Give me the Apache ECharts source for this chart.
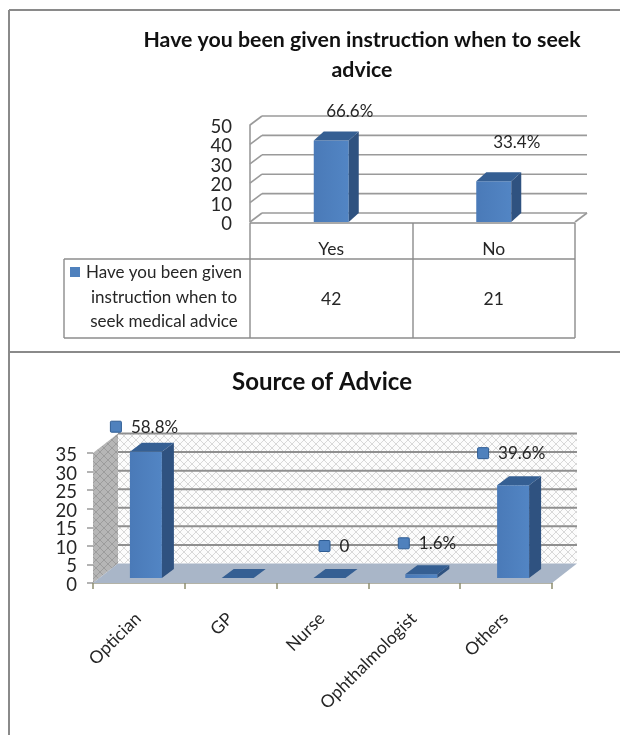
<!DOCTYPE html>
<html><head><meta charset="utf-8">
<style>html,body{margin:0;padding:0;background:#fff}#c{width:620px;height:735px}</style>
<script src="https://cdn.jsdelivr.net/npm/echarts@6/dist/echarts.min.js"></script>
</head><body><div id="c"></div>
<script>
// data
var topTitle = 'Have you been given instruction when to seek\nadvice';
var topCategories = ['Yes', 'No'];
var topValues = [42, 21];
var topPercent = ['66.6%', '33.4%'];
var topTicks = [0, 10, 20, 30, 40, 50];
var topSeriesName = ['Have you been given', 'instruction when to', 'seek medical advice'];
var bottomTitle = 'Source of Advice';
var bottomCategories = ['Optician', 'GP', 'Nurse', 'Ophthalmologist', 'Others'];
var bottomValues = [34, 0, 0, 1, 25];
var bottomPercent = ['58.8%', '', '0', '1.6%', '39.6%'];
var bottomTicks = [0, 5, 10, 15, 20, 25, 30, 35];

// layout
var FONT = 'Lato, "Open Sans", sans-serif';
var TEXT = '#262626', GRID = '#9a9a9a', TABLE = '#8c8c8c';
var topLabelOffset = [[18.5, -29], [23, -39]];
var bottomLabelOffset = [[-23, -25], null, [2, -32], [-10.5, -31], [-23, -32]];

function hatch(bg, line) {
  var c = document.createElement('canvas'); c.width = 8; c.height = 8;
  var g = c.getContext('2d');
  g.fillStyle = bg; g.fillRect(0, 0, 8, 8);
  g.strokeStyle = line; g.lineWidth = 1;
  g.beginPath(); g.moveTo(0, 0); g.lineTo(8, 8); g.moveTo(8, 0); g.lineTo(0, 8); g.stroke();
  return {image: c, repeat: 'repeat'};
}
var hatchBack = hatch('#fcfcfc', '#d8d8d8');
var hatchSide = hatch('#b6b6b6', '#9c9c9c');

function poly(points, fill) {
  return {type: 'polygon', shape: {points: points}, style: {fill: fill}};
}
function seg(x1, y1, x2, y2, color, w) {
  return {type: 'line', shape: {x1: x1, y1: y1, x2: x2, y2: y2}, style: {stroke: color, lineWidth: w || 1.6}};
}
function tickText(x, y, t) {
  return {type: 'text', style: {x: x, y: y + 2, text: String(t), fill: TEXT, font: '18.5px ' + FONT, align: 'right', verticalAlign: 'middle'}};
}

function bar3d(opts) {
  return function (params, api) {
    var p = api.coord([api.value(0), api.value(1)]);
    var base = api.coord([api.value(0), 0]);
    var x0 = p[0] + opts.shiftX - opts.width / 2, x1 = x0 + opts.width;
    var top = p[1] - opts.lift, bot = base[1] - opts.lift;
    var dx = opts.dx, dy = opts.dy;
    var g = [];
    if (bot - top > 0.1) g.push({type: 'rect', shape: {x: x0, y: top, width: opts.width, height: bot - top},
      style: {fill: {type: 'linear', x: 0, y: 0, x2: 1, y2: 0, colorStops: [{offset: 0, color: '#4a7ab8'}, {offset: 1, color: '#5285c4'}]}}});
    g.push(poly([[x1, top], [x1 + dx, top - dy], [x1 + dx, bot - dy], [x1, bot]], '#2f5280'));
    g.push(poly([[x0, top], [x1, top], [x1 + dx, top - dy], [x0 + dx, top - dy]], '#355f93'));
    return {type: 'group', children: g};
  };
}

function topWalls(params, api) {
  var cs = params.coordSys, dx = 12, dy = 9, g = [];
  var xL = cs.x, xR = cs.x + cs.width;
  topTicks.forEach(function (t) {
    var y = api.coord([0, t])[1];
    g.push(seg(xL, y, xL + dx, y - dy, GRID));
    g.push(seg(xL + dx, y - dy, xR + dx, y - dy, GRID));
    g.push(tickText(xL - 18, y, t));
  });
  var y0 = api.coord([0, 0])[1];
  g.push(seg(xR, y0, xR + dx, y0 - dy, GRID));
  return {type: 'group', children: g};
}

function bottomWalls(params, api) {
  var cs = params.coordSys, dx = 25, dy = 19.5, g = [];
  var xL = cs.x, xR = cs.x + cs.width;
  var y0 = api.coord([0, bottomTicks[0]])[1];
  var yT = api.coord([0, bottomTicks[bottomTicks.length - 1]])[1];
  g.push(poly([[xL + dx, yT - dy], [xR + dx, yT - dy], [xR + dx, y0 - dy], [xL + dx, y0 - dy]], hatchBack));
  g.push(poly([[xL, yT], [xL + dx, yT - dy], [xL + dx, y0 - dy], [xL, y0]], hatchSide));
  g.push(poly([[xL, y0], [xR, y0], [xR + dx, y0 - dy], [xL + dx, y0 - dy]], '#a9b6c8'));
  bottomTicks.forEach(function (t, i) {
    var y = api.coord([0, t])[1];
    if (i !== 0) g.push(seg(xL + dx, y - dy, xR + dx, y - dy, '#8f8f8f', 2));
    g.push(tickText(xL - 16, y, t));
  });
  return {type: 'group', children: g};
}

function topLabels(params, api) {
  var i = params.dataIndex, p = api.coord([api.value(0), api.value(1)]), o = topLabelOffset[i];
  return {type: 'text', style: {x: p[0] + o[0], y: p[1] + o[1], text: topPercent[i], fill: TEXT,
    font: '17px ' + FONT, align: 'center', verticalAlign: 'middle'}};
}
function bottomLabels(params, api) {
  var i = params.dataIndex, o = bottomLabelOffset[i];
  if (!o) return {type: 'group', children: []};
  var p = api.coord([api.value(0), api.value(1)]);
  var cy = p[1] - 5 + o[1], cx = p[0] + o[0];
  return {type: 'group', children: [
    {type: 'rect', shape: {x: cx - 5.5, y: cy - 5.5, width: 11, height: 11, r: 1},
      style: {fill: '#4f81bd', stroke: '#2f5d94', lineWidth: 1}},
    {type: 'text', style: {x: cx + 15, y: cy + 0.5, text: bottomPercent[i], fill: TEXT,
      font: '17px ' + FONT, align: 'left', verticalAlign: 'middle'}}
  ]};
}

var idx2 = function (arr) { return arr.map(function (v, i) { return [i, v]; }); };
var custom = function (render, data, gi, z) {
  return {type: 'custom', renderItem: render, data: data, xAxisIndex: gi, yAxisIndex: gi === 0 ? 0 : 1,
    clip: false, silent: true, z: z, animation: false};
};

var tableLines = [
  [250, 223, 575, 223], [64, 259, 575, 259], [64, 338, 575, 338],
  [64, 259, 64, 338], [250, 223, 250, 338], [413, 223, 413, 338], [575, 223, 575, 338]
];
var frameLines = [[9, 10, 620, 10], [9, 10, 9, 735], [9, 352, 620, 352]];

function lineEl(a, color, w) {
  return {type: 'line', shape: {x1: a[0], y1: a[1], x2: a[2], y2: a[3]}, style: {stroke: color, lineWidth: w}, silent: true};
}
var graphics = frameLines.map(function (a) { return lineEl(a, '#8a8a8a', 2); })
  .concat(tableLines.map(function (a) { return lineEl(a, TABLE, 1.4); }));
graphics.push({type: 'rect', shape: {x: 70, y: 267, width: 10, height: 10}, style: {fill: '#4f81bd'}});
topSeriesName.forEach(function (t, i) {
  graphics.push({type: 'text', x: 164, y: 273 + i * 24.5, style: {text: t, fill: TEXT, font: '17px ' + FONT, align: 'center', verticalAlign: 'middle'}});
});

var option = {
  backgroundColor: '#fff',
  animation: false,
  title: [
    {text: topTitle, left: 357, top: 20, textAlign: 'center',
      textStyle: {fontFamily: FONT, fontWeight: 'bold', fontSize: 21.3, color: '#111', lineHeight: 30}},
    {text: bottomTitle, left: 317, top: 365, textAlign: 'center',
      textStyle: {fontFamily: FONT, fontWeight: 'bold', fontSize: 24, color: '#111'}}
  ],
  grid: [
    {left: 250, top: 125, width: 325, height: 97},
    {left: 93, top: 453, width: 459, height: 130}
  ],
  xAxis: [
    {type: 'category', gridIndex: 0, data: topCategories, axisLine: {show: false}, axisTick: {show: false},
      axisLabel: {color: TEXT, fontFamily: FONT, fontSize: 17.5, margin: 18}},
    {type: 'category', gridIndex: 0, position: 'bottom', data: topValues.map(String), axisLine: {show: false}, axisTick: {show: false},
      axisLabel: {color: TEXT, fontFamily: FONT, fontSize: 17.5, margin: 68}},
    {type: 'category', gridIndex: 1, data: bottomCategories,
      axisLine: {show: true, lineStyle: {color: '#9a9a8a', width: 1.5}},
      axisTick: {show: true, length: 6, lineStyle: {color: '#8f8f70', width: 1.5}},
      axisLabel: {color: TEXT, fontFamily: FONT, fontSize: 17.5, rotate: 45, margin: 32, interval: 0, padding: [0, 1, 0, 0]}}
  ],
  yAxis: [
    {type: 'value', gridIndex: 0, min: 0, max: 50, interval: 10, splitLine: {show: false},
      axisLine: {show: true, lineStyle: {color: GRID, width: 1.6}}, axisTick: {show: false},
      axisLabel: {show: false}},
    {type: 'value', gridIndex: 1, min: 0, max: 35, interval: 5, splitLine: {show: false},
      axisLine: {show: false}, axisTick: {show: true, length: 6, lineStyle: {color: GRID, width: 1.5}},
      axisLabel: {show: false}}
  ],
  series: [
    custom(topWalls, [[0, 0]], 0, 1),
    custom(bar3d({width: 35, shiftX: 0, lift: 0, dx: 10, dy: 9}), idx2(topValues), 0, 2),
    custom(topLabels, idx2(topValues), 0, 3),
    custom(bottomWalls, [[0, 0]], 2, 1),
    custom(bar3d({width: 32, shiftX: 7, lift: 5, dx: 12, dy: 9}), idx2(bottomValues), 2, 2),
    custom(bottomLabels, idx2(bottomValues), 2, 3)
  ],
  graphic: graphics
};
echarts.init(document.getElementById('c')).setOption(option);
</script></body></html>
